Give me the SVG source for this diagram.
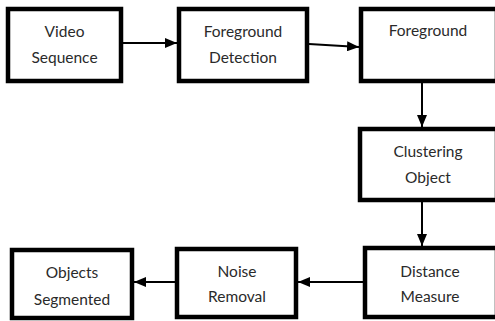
<svg xmlns="http://www.w3.org/2000/svg" width="495" height="321" viewBox="0 0 495 321">
<defs>
<marker id="ah" viewBox="0 0 12 10" refX="12" refY="5" markerWidth="12" markerHeight="10" markerUnits="userSpaceOnUse" orient="auto">
<path d="M0,0 L12,5 L0,10 Z" fill="#000"/>
</marker>
<style>
.box{fill:#fff;stroke:#000;stroke-width:4.5}
.t{font-family:Lato,"Open Sans",sans-serif;font-size:15.5px;fill:#2a2a2a;text-anchor:middle}
.c{stroke:#000;stroke-width:2;fill:none;marker-end:url(#ah)}
</style>
</defs>
<rect width="495" height="321" fill="#fff"/>
<g id="connectors">
<line class="c" x1="123" y1="43" x2="177" y2="43"/>
<line class="c" x1="309" y1="44" x2="359" y2="47"/>
<line class="c" x1="422" y1="83" x2="422" y2="127"/>
<line class="c" x1="422" y1="202" x2="422" y2="246"/>
<line class="c" x1="363" y1="282" x2="298" y2="282"/>
<line class="c" x1="175" y1="282" x2="134" y2="282"/>
</g>
<g id="video-sequence">
<rect class="box" x="8" y="9" width="113" height="72"/>
<text class="t" x="64.5" y="37">Video</text>
<text class="t" x="64.5" y="63">Sequence</text>
</g>
<g id="foreground-detection">
<rect class="box" x="179" y="9" width="128" height="72"/>
<text class="t" x="243" y="37">Foreground</text>
<text class="t" x="243" y="63">Detection</text>
</g>
<g id="foreground">
<rect class="box" x="361" y="9" width="136" height="72"/>
<text class="t" x="428" y="36">Foreground</text>
</g>
<g id="clustering-object">
<rect class="box" x="360" y="129" width="137" height="71"/>
<text class="t" x="428" y="157">Clustering</text>
<text class="t" x="428" y="183">Object</text>
</g>
<g id="distance-measure">
<rect class="box" x="365" y="248" width="132" height="69"/>
<text class="t" x="430" y="277">Distance</text>
<text class="t" x="430" y="302">Measure</text>
</g>
<g id="noise-removal">
<rect class="box" x="177" y="249" width="119" height="68"/>
<text class="t" x="237" y="277">Noise</text>
<text class="t" x="237" y="302">Removal</text>
</g>
<g id="objects-segmented">
<rect class="box" x="12" y="250" width="120" height="68"/>
<text class="t" x="72" y="278">Objects</text>
<text class="t" x="72" y="305">Segmented</text>
</g>
</svg>
